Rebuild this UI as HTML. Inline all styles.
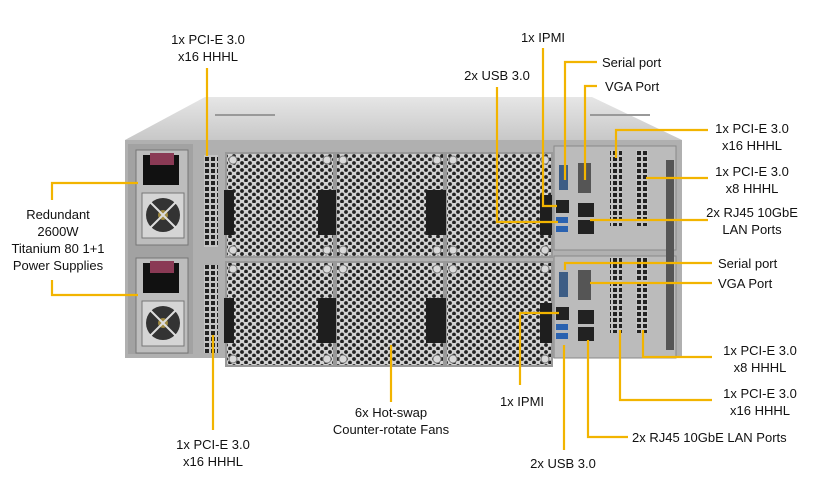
<!DOCTYPE html>
<html><head><meta charset="utf-8"><style>
html,body{margin:0;padding:0;background:#fff;}
svg{display:block;}
text{font-family:"Liberation Sans",sans-serif;font-size:13px;fill:#111;}
</style></head><body>
<svg width="817" height="483" viewBox="0 0 817 483" xmlns="http://www.w3.org/2000/svg">
<defs>
<pattern id="hex" width="8" height="7" patternUnits="userSpaceOnUse">
<rect width="8" height="7" fill="#d2d2d2"/>
<circle cx="2" cy="2" r="1.9" fill="#222"/>
<circle cx="6" cy="5.5" r="1.9" fill="#222"/>
</pattern>
<pattern id="vent" width="6" height="6" patternUnits="userSpaceOnUse">
<rect width="6" height="6" fill="#c4c4c4"/>
<rect x="1" y="1" width="4" height="4" fill="#222"/>
</pattern>
<linearGradient id="lid" x1="0" y1="0" x2="0" y2="1">
<stop offset="0" stop-color="#e6e6e6"/><stop offset="1" stop-color="#c8c8c8"/>
</linearGradient>
</defs>
<polygon points="205,97 592,97 682,140 125,140" fill="url(#lid)"/>
<rect x="215" y="114" width="60" height="2" fill="#999"/>
<rect x="590" y="114" width="60" height="2" fill="#999"/>
<rect x="125" y="140" width="557" height="218" fill="#b0b0b0"/>
<rect x="128" y="144" width="65" height="210" fill="#a2a2a2"/>
<g>
<rect x="136" y="150" width="52" height="95" fill="#bdbdbd" stroke="#777"/>
<rect x="143" y="155" width="36" height="30" fill="#111"/>
<rect x="150" y="153" width="24" height="12" fill="#8a3a55"/>
<rect x="142" y="193" width="42" height="45" fill="#d5d5d5" stroke="#777"/>
<circle cx="163" cy="215" r="17" fill="#333"/><circle cx="163" cy="215" r="5" fill="#a08a40"/>
<path d="M150 202 L176 228 M176 202 L150 228" stroke="#ddd" stroke-width="2"/>
</g>
<g transform="translate(0,108)">
<rect x="136" y="150" width="52" height="95" fill="#bdbdbd" stroke="#777"/>
<rect x="143" y="155" width="36" height="30" fill="#111"/>
<rect x="150" y="153" width="24" height="12" fill="#8a3a55"/>
<rect x="142" y="193" width="42" height="45" fill="#d5d5d5" stroke="#777"/>
<circle cx="163" cy="215" r="17" fill="#333"/><circle cx="163" cy="215" r="5" fill="#a08a40"/>
<path d="M150 202 L176 228 M176 202 L150 228" stroke="#ddd" stroke-width="2"/>
</g>
<rect x="204" y="155" width="14" height="92" fill="url(#vent)"/>
<rect x="204" y="265" width="14" height="88" fill="url(#vent)"/>
<g fill="url(#hex)" stroke="#999" stroke-width="2">
<rect x="226" y="153" width="108" height="104"/>
<rect x="336" y="153" width="108" height="104"/>
<rect x="446" y="153" width="106" height="104"/>
<rect x="226" y="262" width="108" height="104"/>
<rect x="336" y="262" width="108" height="104"/>
<rect x="446" y="262" width="106" height="104"/>
</g>
<g fill="#d8d8d8" stroke="#777">
<circle cx="233" cy="160" r="4"/><circle cx="327" cy="160" r="4"/><circle cx="343" cy="160" r="4"/><circle cx="437" cy="160" r="4"/><circle cx="453" cy="160" r="4"/><circle cx="545" cy="160" r="4"/>
<circle cx="233" cy="250" r="4"/><circle cx="327" cy="250" r="4"/><circle cx="343" cy="250" r="4"/><circle cx="437" cy="250" r="4"/><circle cx="453" cy="250" r="4"/><circle cx="545" cy="250" r="4"/>
<circle cx="233" cy="269" r="4"/><circle cx="327" cy="269" r="4"/><circle cx="343" cy="269" r="4"/><circle cx="437" cy="269" r="4"/><circle cx="453" cy="269" r="4"/><circle cx="545" cy="269" r="4"/>
<circle cx="233" cy="359" r="4"/><circle cx="327" cy="359" r="4"/><circle cx="343" cy="359" r="4"/><circle cx="437" cy="359" r="4"/><circle cx="453" cy="359" r="4"/><circle cx="545" cy="359" r="4"/>
</g>
<g fill="#1e1e1e">
<rect x="224" y="190" width="10" height="45"/><rect x="318" y="190" width="18" height="45"/>
<rect x="426" y="190" width="20" height="45"/><rect x="540" y="195" width="12" height="40"/>
<rect x="224" y="298" width="10" height="45"/><rect x="318" y="298" width="18" height="45"/>
<rect x="426" y="298" width="20" height="45"/><rect x="540" y="303" width="12" height="40"/>
</g>
<rect x="554" y="146" width="122" height="104" fill="#bbbbbb" stroke="#888"/>
<rect x="554" y="256" width="122" height="102" fill="#bbbbbb" stroke="#888"/>
<g>
<rect x="559" y="165" width="9" height="25" fill="#3d5d85"/>
<rect x="578" y="163" width="13" height="30" fill="#555"/>
<rect x="556" y="200" width="13" height="13" fill="#222"/>
<rect x="556" y="217" width="12" height="6" fill="#2a62b0"/><rect x="556" y="226" width="12" height="6" fill="#2a62b0"/>
<rect x="578" y="203" width="16" height="14" fill="#222"/><rect x="578" y="220" width="16" height="14" fill="#222"/>
<rect x="610" y="150" width="12" height="76" fill="url(#vent)"/>
<rect x="636" y="150" width="12" height="76" fill="url(#vent)"/>
</g>
<g transform="translate(0,107)">
<rect x="559" y="165" width="9" height="25" fill="#3d5d85"/>
<rect x="578" y="163" width="13" height="30" fill="#555"/>
<rect x="556" y="200" width="13" height="13" fill="#222"/>
<rect x="556" y="217" width="12" height="6" fill="#2a62b0"/><rect x="556" y="226" width="12" height="6" fill="#2a62b0"/>
<rect x="578" y="203" width="16" height="14" fill="#222"/><rect x="578" y="220" width="16" height="14" fill="#222"/>
<rect x="610" y="150" width="12" height="76" fill="url(#vent)"/>
<rect x="636" y="150" width="12" height="76" fill="url(#vent)"/>
</g>
<rect x="666" y="160" width="8" height="190" fill="#555"/>
<g stroke="#f2b400" stroke-width="2.2" fill="none">
<path d="M207 68 V156"/>
<path d="M52 200 V183 H138"/>
<path d="M52 280 V295 H138"/>
<path d="M543 48 V206 H557"/>
<path d="M597 62 H565 V180"/>
<path d="M597 86 H585 V180"/>
<path d="M497 87 V222 H558"/>
<path d="M708 130 H616 V158"/>
<path d="M708 178 H646"/>
<path d="M708 220 H590"/>
<path d="M712 263 H565 V270"/>
<path d="M712 283 H590"/>
<path d="M712 357 H643 V330"/>
<path d="M712 400 H620 V330"/>
<path d="M628 437 H588 V340"/>
<path d="M564 450 V345"/>
<path d="M520 385 V313 H559"/>
<path d="M391 402 V345"/>
<path d="M213 430 V335"/>
</g>
<g text-anchor="middle">
<text x="208" y="44">1x PCI-E 3.0</text><text x="208" y="61">x16 HHHL</text>
<text x="58" y="219">Redundant</text><text x="58" y="236">2600W</text>
<text x="58" y="253">Titanium 80 1+1</text><text x="58" y="270">Power Supplies</text>
<text x="543" y="42">1x IPMI</text>
<text x="497" y="80">2x USB 3.0</text>
<text x="752" y="133">1x PCI-E 3.0</text><text x="752" y="150">x16 HHHL</text>
<text x="752" y="176">1x PCI-E 3.0</text><text x="752" y="193">x8 HHHL</text>
<text x="752" y="217">2x RJ45 10GbE</text><text x="752" y="234">LAN Ports</text>
<text x="760" y="355">1x PCI-E 3.0</text><text x="760" y="372">x8 HHHL</text>
<text x="760" y="398">1x PCI-E 3.0</text><text x="760" y="415">x16 HHHL</text>
<text x="522" y="406">1x IPMI</text>
<text x="391" y="417">6x Hot-swap</text><text x="391" y="434">Counter-rotate Fans</text>
<text x="563" y="468">2x USB 3.0</text>
<text x="213" y="449">1x PCI-E 3.0</text><text x="213" y="466">x16 HHHL</text>
</g>
<text x="602" y="67">Serial port</text>
<text x="605" y="91">VGA Port</text>
<text x="718" y="268">Serial port</text>
<text x="718" y="288">VGA Port</text>
<text x="632" y="442">2x RJ45 10GbE LAN Ports</text>
</svg>
</body></html>
